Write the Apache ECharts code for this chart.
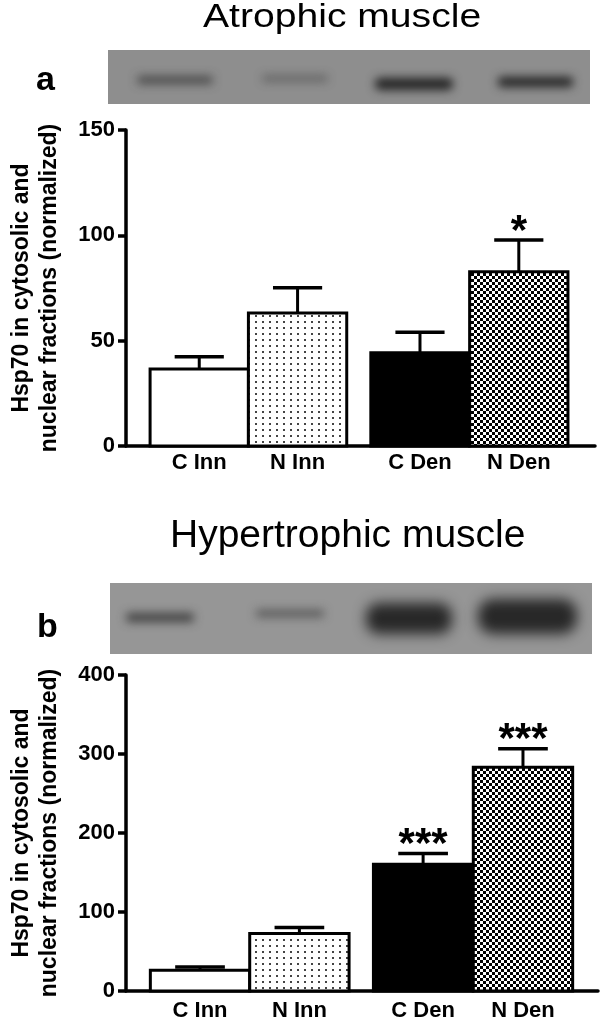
<!DOCTYPE html>
<html>
<head>
<meta charset="utf-8">
<script src="https://cdn.jsdelivr.net/npm/echarts@6/dist/echarts.min.js"></script>
<style>
  html, body { margin: 0; background: #fff; }
  #chart { width: 600px; height: 1026px; }
</style>
</head>
<body>
<div id="chart"></div>
<script>
// data
const categories = ['C Inn', 'N Inn', 'C Den', 'N Den'];
const atrophicMean = [36.5, 63.1, 44.3, 82.7];
const atrophicSem = [5.9, 12.0, 9.7, 15.1];
const atrophicStars = ['', '', '', '*'];
const atrophicTicks = [0, 50, 100, 150];

const hyperMean = [26.2, 72.7, 160.6, 283.1];
const hyperSem = [4.2, 7.6, 13.5, 23.6];
const hyperStars = ['', '', '***', '***'];
const hyperTicks = [0, 100, 200, 300, 400];

// bar centres on a hidden value axis (1 unit = one bar width), gap between the pairs
const barCenters = [0.745, 1.745, 2.99, 3.995];

const FONT = '"Liberation Sans", Arial, sans-serif';

function pattern(w, h, draw) {
  const c = document.createElement('canvas');
  c.width = w; c.height = h;
  const ctx = c.getContext('2d');
  draw(ctx);
  return { image: c, repeat: 'repeat' };
}
const dots = pattern(7, 6, ctx => {
  ctx.fillStyle = '#fff'; ctx.fillRect(0, 0, 7, 6);
  ctx.fillStyle = '#444'; ctx.fillRect(3, 3, 2, 2);
});
const checker = pattern(6, 6, ctx => {
  ctx.fillStyle = '#fff'; ctx.fillRect(0, 0, 6, 6);
  ctx.fillStyle = '#000'; ctx.fillRect(0, 0, 3, 3); ctx.fillRect(3, 3, 3, 3);
});
const fills = ['#fff', dots, '#000', checker];

function barSeries(idx, mean, sem, stars) {
  return {
    type: 'custom',
    xAxisIndex: idx,
    yAxisIndex: idx,
    encode: { x: 0, y: 1 },
    data: mean.map((m, i) => [barCenters[i], m, sem[i], i]),
    renderItem(params, api) {
      const cx = api.value(0), m = api.value(1), e = api.value(2), k = api.value(3);
      const bl = api.coord([cx - 0.5, 0]);
      const tr = api.coord([cx + 0.5, m]);
      const top = api.coord([cx, m + e]);
      const w = tr[0] - bl[0];
      const mid = (bl[0] + tr[0]) / 2;
      const kids = [
        { type: 'line', shape: { x1: mid, y1: tr[1], x2: mid, y2: top[1] }, style: { stroke: '#000', lineWidth: 3 } },
        { type: 'line', shape: { x1: mid - w / 4, y1: top[1], x2: mid + w / 4, y2: top[1] }, style: { stroke: '#000', lineWidth: 3.5 } },
        { type: 'rect', shape: { x: bl[0], y: tr[1], width: w, height: bl[1] - tr[1] },
          style: { fill: fills[k], stroke: '#000', lineWidth: 3 } }
      ];
      if (stars[k]) {
        kids.push({ type: 'text', x: mid, y: top[1] - 8,
          style: { text: stars[k], fill: '#000', font: 'bold 42px ' + FONT, align: 'center', verticalAlign: 'middle' } });
      }
      return { type: 'group', children: kids };
    }
  };
}

function xAxis(idx, max, margin) {
  return {
    gridIndex: idx, type: 'value', min: 0, max: max,
    axisLine: { show: true, onZero: false, lineStyle: { color: '#000', width: 3.5 } },
    axisTick: { show: false },
    splitLine: { show: false },
    axisLabel: {
      customValues: barCenters,
      formatter: v => categories[barCenters.findIndex(c => Math.abs(c - v) < 1e-6)] || '',
      color: '#000', fontSize: 22, fontWeight: 'bold', fontFamily: FONT, margin: margin
    }
  };
}

function yAxis(idx, ticks) {
  return {
    gridIndex: idx, type: 'value',
    min: ticks[0], max: ticks[ticks.length - 1], interval: ticks[1] - ticks[0],
    axisLine: { show: true, onZero: false, lineStyle: { color: '#000', width: 3.5 } },
    axisTick: { show: true, length: 8, lineStyle: { color: '#000', width: 3.5 } },
    splitLine: { show: false },
    axisLabel: { color: '#000', fontSize: 22, fontWeight: 'bold', fontFamily: FONT, margin: 11 },
    name: 'Hsp70 in cytosolic and\nnuclear fractions (normalized)',
    nameLocation: 'middle', nameRotate: 90, nameGap: 62,
    nameTextStyle: { color: '#000', fontSize: 23, fontWeight: 'bold', fontFamily: FONT, lineHeight: 28 }
  };
}

// western blot strips, drawn as blurred shadows of off-canvas shapes
function band(x, y, w, h, r, color, blur) {
  return { type: 'rect', silent: true,
    shape: { x: x - 3000, y: y, width: w, height: h, r: r },
    style: { fill: color, shadowColor: color, shadowBlur: blur, shadowOffsetX: 3000 } };
}
const blots = [
  { type: 'rect', silent: true, shape: { x: 108, y: 50, width: 482, height: 54 }, style: { fill: '#8e8e8e' } },
  band(137, 76, 76, 8, 4, 'rgba(50,50,50,0.85)', 10),
  band(262, 75, 66, 7, 3, 'rgba(60,60,60,0.7)', 10),
  band(375, 78, 78, 12, 5, 'rgba(35,35,35,1)', 10),
  band(498, 77, 75, 10, 4, 'rgba(35,35,35,1)', 10),
  { type: 'rect', silent: true, shape: { x: 110, y: 583, width: 482, height: 71 }, style: { fill: '#969696' } },
  band(126, 613, 68, 9, 4, 'rgba(45,45,45,0.9)', 10),
  band(256, 610, 68, 7, 3, 'rgba(50,50,50,0.8)', 10),
  band(366, 603, 86, 31, 13, 'rgba(40,40,40,1)', 13),
  band(478, 599, 99, 35, 15, 'rgba(40,40,40,1)', 13)
];

const texts = [
  { type: 'text', x: 203, y: 18, scaleX: 1.15,
    style: { text: 'Atrophic muscle', font: '34px ' + FONT, fill: '#000', align: 'left', verticalAlign: 'middle' } },
  { type: 'text', x: 170, y: 536,
    style: { text: 'Hypertrophic muscle', font: '39px ' + FONT, fill: '#000', align: 'left', verticalAlign: 'middle' } },
  { type: 'text', x: 36, y: 81,
    style: { text: 'a', font: 'bold 34px ' + FONT, fill: '#000', align: 'left', verticalAlign: 'middle' } },
  { type: 'text', x: 37, y: 628,
    style: { text: 'b', font: 'bold 34px ' + FONT, fill: '#000', align: 'left', verticalAlign: 'middle' } }
];

const chart = echarts.init(document.getElementById('chart'));
chart.setOption({
  animation: false,
  backgroundColor: '#fff',
  grid: [
    { left: 118, top: 130, width: 477, height: 316 },
    { left: 123, top: 675, width: 475, height: 316 }
  ],
  xAxis: [xAxis(0, 4.77, 6), xAxis(1, 4.75, 9)],
  yAxis: [yAxis(0, atrophicTicks), yAxis(1, hyperTicks)],
  graphic: blots.concat(texts),
  series: [
    barSeries(0, atrophicMean, atrophicSem, atrophicStars),
    barSeries(1, hyperMean, hyperSem, hyperStars)
  ]
});
</script>
</body>
</html>
